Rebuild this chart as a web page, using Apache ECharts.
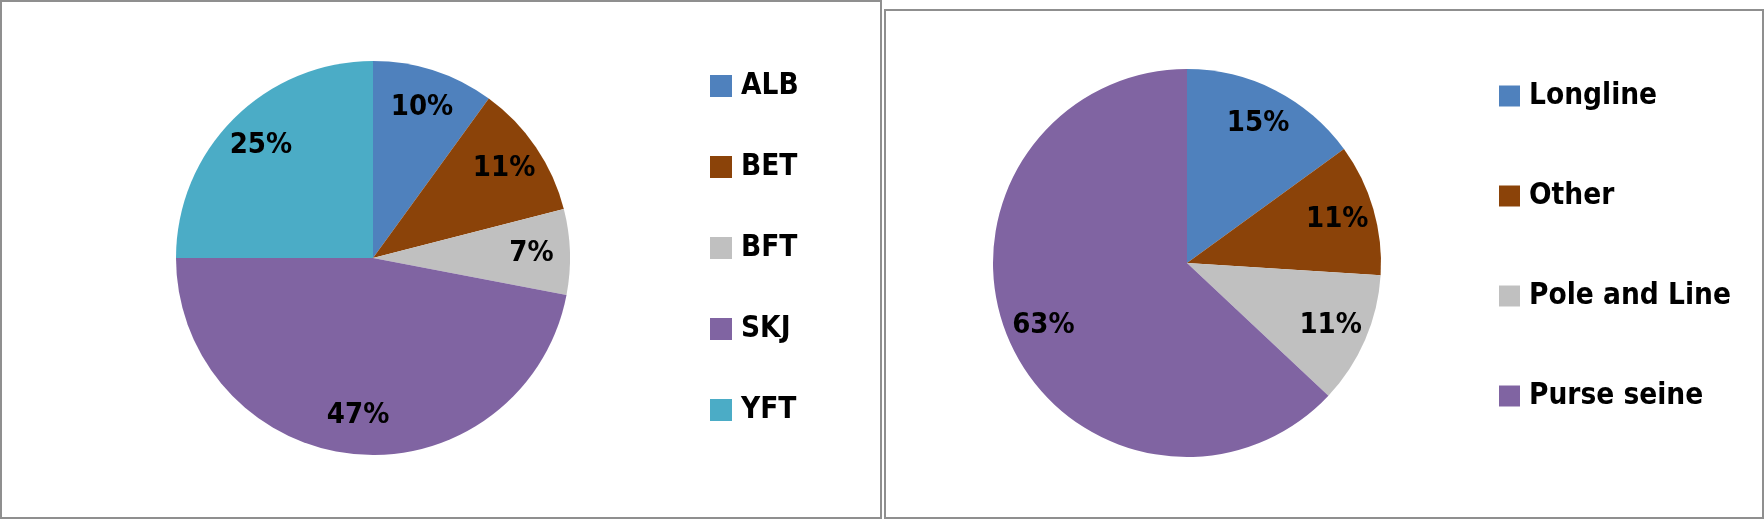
<!DOCTYPE html>
<html>
<head>
<meta charset="utf-8">
<script src="https://cdn.jsdelivr.net/npm/echarts@6/dist/echarts.min.js"></script>
<style>
html,body{margin:0;padding:0;background:#fff;}
#chart{position:absolute;left:0;top:0;width:1764px;height:519px;}
.box{position:absolute;border:2px solid #8f8f8f;box-sizing:border-box;pointer-events:none;}
</style>
</head>
<body>
<div id="chart"></div>
<div class="box" style="left:0;top:0;width:882px;height:519px;"></div>
<div class="box" style="left:884px;top:9px;width:880px;height:510px;"></div>
<script>
const speciesNames = ['ALB', 'BET', 'BFT', 'SKJ', 'YFT'];
const speciesValues = [10, 11, 7, 47, 25];
const gearNames = ['Longline', 'Other', 'Pole and Line', 'Purse seine'];
const gearValues = [15, 11, 11, 63];
const speciesColors = ['#4F81BD', '#8B4309', '#C0C0C0', '#8064A2', '#4BACC6'];
const gearColors = ['#4F81BD', '#8B4309', '#C0C0C0', '#8064A2'];

const FONT = '"Liberation Sans Narrow", "DejaVu Sans Condensed", "Noto Sans", sans-serif';

function toData(names, values, colors) {
  return names.map((n, i) => ({ name: n, value: values[i], itemStyle: { color: colors[i] } }));
}
function ghostData(names, values) {
  return names.map((n, i) => ({ name: n, value: values[i] }));
}

const labelStyle = {
  show: true,
  position: 'inside',
  formatter: p => Math.round(p.percent) + '%',
  color: '#000',
  fontFamily: FONT,
  fontWeight: 'bold',
  fontSize: 29
};

function pieMain(names, values, colors, center, r) {
  return {
    type: 'pie',
    center: center,
    radius: [0, r],
    startAngle: 90,
    clockwise: true,
    data: toData(names, values, colors),
    label: { show: false },
    labelLine: { show: false },
    itemStyle: { borderWidth: 0 },
    emphasis: { disabled: true },
    animation: false
  };
}
function pieLabels(names, values, center, r) {
  return {
    type: 'pie',
    center: center,
    radius: [Math.round(r * 0.58), r],
    startAngle: 90,
    clockwise: true,
    silent: true,
    data: ghostData(names, values),
    itemStyle: { color: 'rgba(0,0,0,0)', borderWidth: 0 },
    label: labelStyle,
    labelLine: { show: false },
    emphasis: { disabled: true },
    animation: false
  };
}

function legendText(lh) {
  return {
    fontFamily: FONT,
    fontWeight: 'bold',
    fontSize: 29.5,
    lineHeight: lh,
    color: '#000',
    padding: [0, 0, 0, 4]
  };
}

const chart = echarts.init(document.getElementById('chart'), null, { renderer: 'canvas' });
chart.setOption({
  backgroundColor: 'transparent',
  animation: false,
  legend: [
    {
      data: speciesNames,
      orient: 'vertical',
      left: 710,
      top: 71,
      padding: 0,
      itemWidth: 22,
      itemHeight: 22,
      itemGap: 51,
      icon: 'rect',
      selectedMode: false,
      textStyle: legendText(22)
    },
    {
      data: gearNames,
      orient: 'vertical',
      left: 1499,
      top: 81,
      padding: 0,
      itemWidth: 21,
      itemHeight: 21,
      itemGap: 70,
      icon: 'rect',
      selectedMode: false,
      textStyle: legendText(21)
    }
  ],
  series: [
    pieMain(speciesNames, speciesValues, speciesColors, [373, 258], 197),
    pieMain(gearNames, gearValues, gearColors, [1187, 263], 194),
    pieLabels(speciesNames, speciesValues, [373, 258], 197),
    pieLabels(gearNames, gearValues, [1187, 263], 194)
  ]
});
</script>
</body>
</html>
